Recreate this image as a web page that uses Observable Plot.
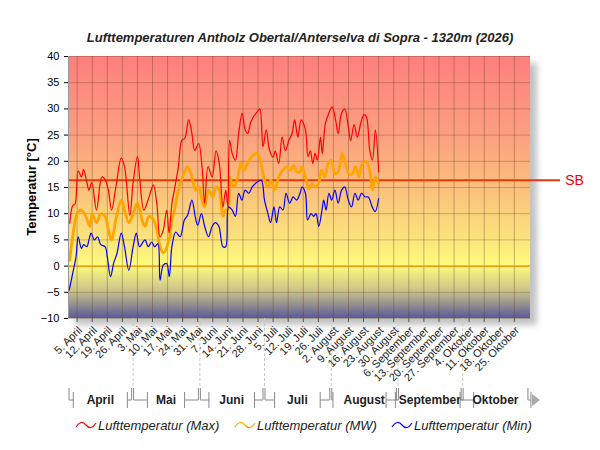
<!DOCTYPE html>
<html><head><meta charset="utf-8">
<script src="https://cdn.jsdelivr.net/npm/d3@7"></script>
<script src="https://cdn.jsdelivr.net/npm/@observablehq/plot@0.6"></script>
<style>body{margin:0;background:#fff;font-family:Arial,"Liberation Sans",sans-serif}</style>
</head><body><div id="c"></div>
<script>
const title = "Lufttemperaturen Antholz Obertal/Anterselva di Sopra - 1320m (2026)";
const yLabel = "Temperatur [°C]";
const seriesNames = ["Lufttemperatur (Max)", "Lufttemperatur (MW)", "Lufttemperatur (Min)"];
const seriesColors = ["#ff0000", "#ffa500", "#0000ff"];
const monthNames = ["April","Mai","Juni","Juli","August","September","Oktober"];
const yTicks = [-10,-5,0,5,10,15,20,25,30,35,40];
const sbValue = 16.4;
// [day offset from 1 April 2026, °C]
const maxData = [[0.6,8.2],[2,11.6],[3,11.8],[4.5,18.2],[6,17],[7,18.4],[8.5,16],[9.5,14.5],[10.8,16],[13,10.7],[15.5,17],[17,16.5],[18.5,14.5],[20,10.7],[22,15.1],[24.5,20.6],[26,19],[28.5,9.7],[30,16],[32,20.9],[33,17],[35,10.7],[37.4,13.2],[39.4,15.5],[41,11.9],[42.5,5.6],[44,6.9],[45.6,10.7],[46.7,6.3],[48,11.9],[49.5,15.3],[51,18.9],[52.6,24],[54,24.4],[55.8,27.9],[57.3,25.3],[58.6,22.1],[60.4,23.4],[62,18.9],[63.2,12],[64.8,19],[66.7,17],[68.5,22],[70,19.6],[71.7,11.3],[73,14.5],[74,11.3],[74.8,24],[76,21.5],[77.5,20.2],[79,25.3],[80.6,29.2],[82,26],[83.2,25.3],[84.5,27.3],[86,28.6],[87.5,29.4],[88.8,30],[90.3,22.8],[91.8,26],[93.4,22],[95,20.8],[96,22],[97.6,19.6],[99.2,24.6],[100.7,22],[102.3,24],[103.8,25.3],[105,27.9],[106.5,24.6],[108,27.9],[110,26],[111.2,20.9],[112.3,22],[113.4,19.6],[114.5,21.5],[115.5,20.2],[117,24.6],[117.8,21.5],[119.3,27.3],[120.9,29.2],[122.4,30.4],[124,27.9],[125.2,25.3],[126.8,29.2],[128.3,30],[129.9,26.6],[131,24],[132.6,27],[134.1,24.6],[135.7,27.3],[137.2,28.9],[138.3,28.5],[139.9,22],[141.1,20.2],[142.5,26],[144,18]];
const mwData = [[0.5,1.1],[2,5.7],[4,10],[6,10.7],[8,9.5],[10,7.6],[11,10],[13,8.3],[15,10],[17,9.5],[18.5,7],[20,5],[22,8.9],[24.5,12.6],[26,10.7],[28,8.3],[30,10],[32,12],[34.5,8.3],[35.5,7.6],[37.4,9.5],[39.4,8.9],[41,7],[42.5,3.7],[44,2.5],[46.7,5],[48,8.9],[49.5,11.3],[51,14.5],[53,17],[55.3,19],[57.3,17],[59,14.5],[60.4,15.1],[62,12.6],[63.2,11.3],[65,14.5],[67,13.2],[68.5,15.1],[70,14.5],[71.7,9.5],[73,10.7],[74,10.7],[75,17],[76.5,15.1],[78.3,16.4],[80,19.6],[81.5,18.3],[83,19.6],[85.3,21],[87.5,21.5],[89,20.2],[91,16.4],[92.6,15.1],[94,16.4],[95.7,14.5],[97.6,17],[99.5,18.3],[101.6,19],[103,18.3],[104.7,19.2],[106,18],[107.6,18],[108.4,19],[110,17],[111.5,14.8],[113,15.7],[114.6,15.1],[116,15.7],[117.5,18.3],[119,17],[120.6,19.6],[122.1,20.2],[123.7,17.6],[125.2,18],[127.1,21.5],[128.6,19.6],[130.2,17.6],[131.8,17.6],[133.3,19],[134.9,17],[136.5,19.6],[138.3,19.9],[139.8,18.3],[141.1,14.5],[142.4,17],[144,15.7]];
const minData = [[0.3,-4.6],[2,-1.3],[3.5,1.8],[4.5,5.6],[6,3.4],[7,4.1],[8.5,3.7],[9.5,5],[10.5,6.3],[12,5],[13.5,5.6],[15,4.1],[17,3.7],[18,1.8],[19.5,-2],[21,0.6],[22.5,2.4],[24.5,6.3],[26,3.7],[28,-0.8],[30,3.7],[31.5,6.3],[33,3.7],[35.5,5],[37,3.7],[38.6,4.6],[40,3.7],[41.5,4.3],[42.5,-2.7],[44,0.2],[45.6,0.5],[46.8,-2],[48,3.7],[49.8,6.5],[51.8,5.6],[53.8,8.8],[55.3,9.7],[57.3,12.6],[58.9,9.3],[60,7.8],[61.7,10],[63.2,7.6],[65,5.6],[66.7,7.6],[68.2,8.3],[69.8,7.6],[71.7,3.7],[73,3.7],[74.3,11.3],[76,10.7],[77.5,9.5],[79,13.9],[80.5,12.6],[82,14.5],[83.7,13.9],[85.3,15.1],[87.5,16],[89.5,16.4],[91,12.6],[92.6,10],[93.8,8.3],[95.4,11.3],[96.6,8.3],[98.1,11.3],[99.6,10.7],[101,13.9],[102.7,12],[104.3,13.2],[105.9,12.6],[107.5,13.9],[108.4,15.1],[110,13.9],[111,8.8],[112.6,10],[113.8,9.5],[114.9,10],[116.2,7.6],[117.7,10.7],[118.5,12.6],[119.6,10.7],[120.9,13.9],[122.2,12.6],[123.7,14.5],[125.2,12],[126.8,14.5],[128.3,15.1],[129.9,12.6],[131.4,11.3],[133,13.9],[134.5,12.6],[136.1,13.9],[137.7,13.2],[139.2,13.2],[141,11.3],[142.4,10.4],[144,12.9]];

const base = new Date(2026,3,1);
const toDate = d => new Date(base.getTime() + d*86400000);
const rows = [];
[maxData, mwData, minData].forEach((arr,i) => arr.forEach(([d,v]) => rows.push({date: toDate(d), t: v, s: seriesNames[i]})));
const weekTicks = d3.timeDay.range(new Date(2026,3,5), new Date(2026,9,26), 7);
const monthStarts = d3.timeMonth.range(new Date(2026,3,1), new Date(2026,10,1));
const fmt = d => `${d.getDate()}. ${monthNames[d.getMonth()-3]}`;
const xDomain = [new Date(2026,3,1), new Date(2026,10,1, 12)];

const plot = Plot.plot({
  width: 600, height: 450,
  marginLeft: 68, marginRight: 70, marginTop: 56, marginBottom: 132,
  style: {fontFamily: "Arial, 'Liberation Sans', sans-serif", fontSize: "11px", background: "#fff", overflow: "visible"},
  x: {type: "time", domain: xDomain, label: null, axis: null},
  y: {type: "linear", domain: [-10, 40], ticks: yTicks, label: null, tickSize: 4},
  color: {domain: seriesNames, range: seriesColors},
  marks: [
    Plot.rect([0], {x1: xDomain[0], x2: xDomain[1], y1: -10, y2: 40, fill: "#999", dx: 7, dy: 7, opacity: 0.6, className: "shadow"}),
    Plot.rect([0], {x1: xDomain[0], x2: xDomain[1], y1: -10, y2: 40, fill: "url(#bg)"}),
    Plot.ruleX(weekTicks, {stroke: "#5a3a1a", strokeOpacity: 0.35, y1: -10, y2: 40}),
    Plot.ruleY(yTicks, {stroke: "#5a3a1a", strokeOpacity: 0.3, x1: xDomain[0], x2: xDomain[1]}),
    Plot.ruleX(monthStarts.slice(1), {stroke: "#c8c8c8", strokeDasharray: "3,2", y1: -10, y2: -10, insetBottom: -70}),
    Plot.ruleX(weekTicks, {y1: -10, y2: -10, stroke: "#555", insetBottom: -4}),
    Plot.ruleY([0], {stroke: "#ff8c00", strokeWidth: 1.2, x1: xDomain[0], x2: xDomain[1]}),
    Plot.ruleY([sbValue], {stroke: "#e8380d", strokeWidth: 2, x1: xDomain[0], x2: xDomain[1], insetRight: -30}),
    Plot.text([sbValue], {y: d => d, x: xDomain[1], text: () => "SB", dx: 44, fill: "#e00", fontSize: 14, textAnchor: "middle"}),
    Plot.line(rows.filter(r => r.s === seriesNames[1]), {x: "date", y: "t", stroke: "s", strokeWidth: 2.8, curve: "catmull-rom"}),
    Plot.line(rows.filter(r => r.s === seriesNames[0]), {x: "date", y: "t", stroke: "s", strokeWidth: 1.2, curve: "catmull-rom"}),
    Plot.line(rows.filter(r => r.s === seriesNames[2]), {x: "date", y: "t", stroke: "s", strokeWidth: 1.2, curve: "catmull-rom"}),
    Plot.ruleX([xDomain[0]], {y1: -10, y2: 40, stroke: "#999"}),
    Plot.text(weekTicks, {x: d => d, y: () => -10, text: fmt, rotate: -45, textAnchor: "end", dx: 3, dy: 10, fontSize: 11, fill: "#222"}),
    Plot.axisY({ticks: yTicks, tickSize: 4, label: null}),
  ]
});
document.getElementById("c").appendChild(plot);
const svg = d3.select(plot);
const defs = svg.insert("defs", ":first-child");
const g = defs.append("linearGradient").attr("id","bg").attr("x1",0).attr("y1",0).attr("x2",0).attr("y2",1);
[[0,"#ff7f7f"],[0.3,"#fb9f7f"],[0.5,"#fbbf7c"],[0.7,"#fce47c"],[0.8,"#fdfc7c"],[0.9,"#c8c08a"],[1,"#5a5a98"]]
  .forEach(([o,c]) => g.append("stop").attr("offset",o).attr("stop-color",c));
defs.append("filter").attr("id","blur").append("feGaussianBlur").attr("stdDeviation",3);
svg.select(".shadow").attr("filter","url(#blur)");
const x = plot.scale("x").apply;
svg.append("text").attr("x",300).attr("y",42).attr("text-anchor","middle").attr("font-size",13).attr("font-weight","bold").attr("font-style","italic").attr("fill","#222").text(title);
svg.append("text").attr("transform","translate(36,187) rotate(-90)").attr("text-anchor","middle").attr("font-size",13).attr("font-weight","bold").text(yLabel);
const by = 400;
monthStarts.forEach((m,i) => {
  const a = x(m), b = x(d3.timeMonth.offset(m,1));
  const mid = (a+b)/2, half = monthNames[i].length*4.2 + 6;
  svg.append("path").attr("stroke","#888").attr("fill","none")
    .attr("d",`M${a+1},388 L${a+1},${by} L${mid-half},${by} M${mid-half},${by-8} L${mid-half},${by+8} M${mid+half},${by-8} L${mid+half},${by+8} M${mid+half},${by} L${b-1},${by} L${b-1},388`);
  svg.append("text").attr("x",mid).attr("y",by+4).attr("text-anchor","middle").attr("font-size",12).attr("font-weight","bold").attr("fill","#222").text(monthNames[i]);
});
svg.append("path").attr("d",`M${x(xDomain[1])+2},${by-6} L${x(xDomain[1])+10},${by} L${x(xDomain[1])+2},${by+6} Z`).attr("fill","#aaa");
const lx = [76, 235, 392];
seriesNames.forEach((n,i) => {
  svg.append("path").attr("d",`M${lx[i]},427 q5,-8 10,-2 t10,-2`).attr("stroke",seriesColors[i]).attr("fill","none").attr("stroke-width",1.2);
  svg.append("text").attr("x",lx[i]+22).attr("y",430).attr("text-anchor","start").attr("font-size",13).attr("font-style","italic").attr("fill","#222").text(n);
});
</script></body></html>
